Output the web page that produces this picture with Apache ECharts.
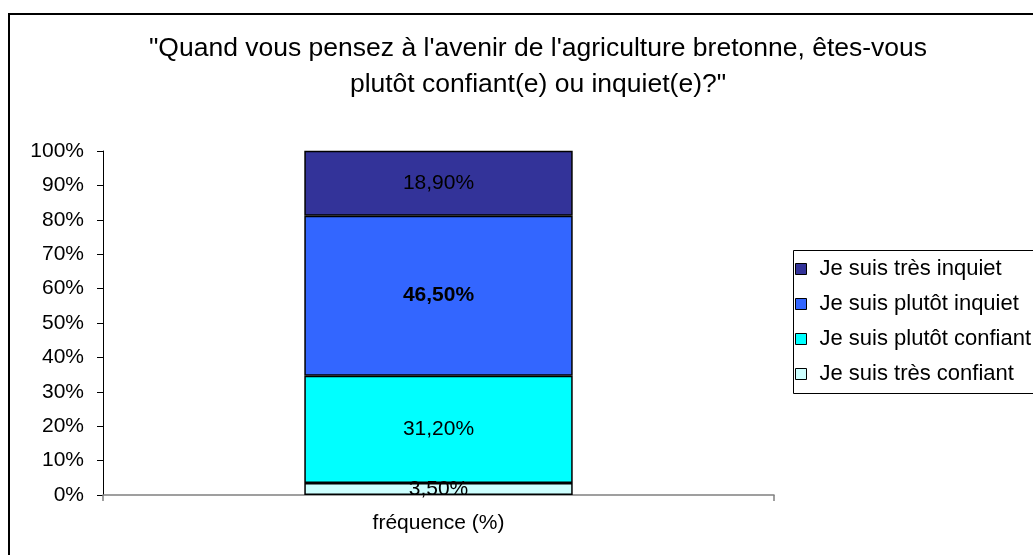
<!DOCTYPE html>
<html>
<head>
<meta charset="utf-8">
<script src="https://cdn.jsdelivr.net/npm/echarts@6/dist/echarts.min.js"></script>
<style>
  html, body { margin: 0; padding: 0; background: #fff; }
  #chart { width: 1033px; height: 555px; }
</style>
</head>
<body>
<div id="chart"></div>
<script>
// catégorie et séries (bas -> haut)
var categories = ['fréquence (%)'];
var seriesNames = ['Je suis très confiant', 'Je suis plutôt confiant', 'Je suis plutôt inquiet', 'Je suis très inquiet'];
var seriesValues = [[3.5], [31.2], [46.5], [18.9]];
var seriesColors = ['#CCFFFF', '#00FFFF', '#3366FF', '#333399'];
var yTicks = [0, 10, 20, 30, 40, 50, 60, 70, 80, 90, 100];

var fontName = 'Liberation Sans, Arial, sans-serif';

function fmt(v) {
	return v.toFixed(2).replace('.', ',') + '%';
}

var series = [];
for (var i = 0; i < seriesNames.length; i++) {
	series.push({
		name: seriesNames[i],
		type: 'bar',
		stack: 'total',
		barWidth: '40%',
		data: seriesValues[i],
		itemStyle: { color: seriesColors[i], borderColor: '#000', borderWidth: 1.5 },
		label: {
			show: true,
			position: 'inside',
			color: '#000',
			fontFamily: fontName,
			fontSize: 21,
			fontWeight: (i == 2) ? 'bold' : 'normal',
			formatter: function (p) { return fmt(p.value); }
		}
	});
}

var myChart = echarts.init(document.getElementById('chart'));
var option = {
	animation: false,
	backgroundColor: '#fff',
	title: {
		text: '"Quand vous pensez à l\'avenir de l\'agriculture bretonne, êtes-vous\nplutôt confiant(e) ou inquiet(e)?"',
		left: 538,
		top: 31,
		padding: 0,
		textAlign: 'center',
		textStyle: { fontFamily: fontName, fontSize: 26.5, fontWeight: 'normal', color: '#000', lineHeight: 36 }
	},
	legend: {
		orient: 'vertical',
		left: 795,
		top: 258,
		padding: 0,
		data: seriesNames.slice().reverse(),
		icon: 'rect',
		itemWidth: 11,
		itemHeight: 11,
		itemGap: 13,
		itemStyle: { borderColor: '#000', borderWidth: 1 },
		textStyle: { fontFamily: fontName, fontSize: 22, color: '#000', lineHeight: 22, padding: [0, 0, 0, 8] }
	},
	grid: { left: 103, right: 259, top: 151, bottom: 60 },
	xAxis: {
		type: 'category',
		data: categories,
		axisLine: { lineStyle: { color: '#808080', width: 1.5 } },
		axisTick: { show: true, interval: 0, length: 6, lineStyle: { color: '#808080', width: 1.5 } },
		axisLabel: { color: '#000', fontFamily: fontName, fontSize: 21, margin: 18 }
	},
	yAxis: {
		type: 'value',
		min: yTicks[0],
		max: yTicks[yTicks.length - 1],
		interval: 10,
		splitLine: { show: false },
		axisLine: { show: true, lineStyle: { color: '#000', width: 1 } },
		axisTick: { show: true, length: 6, lineStyle: { color: '#000' } },
		axisLabel: { color: '#000', fontFamily: fontName, fontSize: 21, margin: 19, formatter: '{value}%' }
	},
	graphic: [
		{
			type: 'rect',
			shape: { x: 9, y: 14, width: 1100, height: 600 },
			style: { fill: 'none', stroke: '#000', lineWidth: 2 },
			silent: true
		},
		{
			type: 'rect',
			shape: { x: 793.5, y: 250.5, width: 300, height: 143 },
			style: { fill: 'none', stroke: '#000', lineWidth: 1 },
			silent: true
		}
	],
	series: series
};

myChart.setOption(option);
</script>
</body>
</html>
